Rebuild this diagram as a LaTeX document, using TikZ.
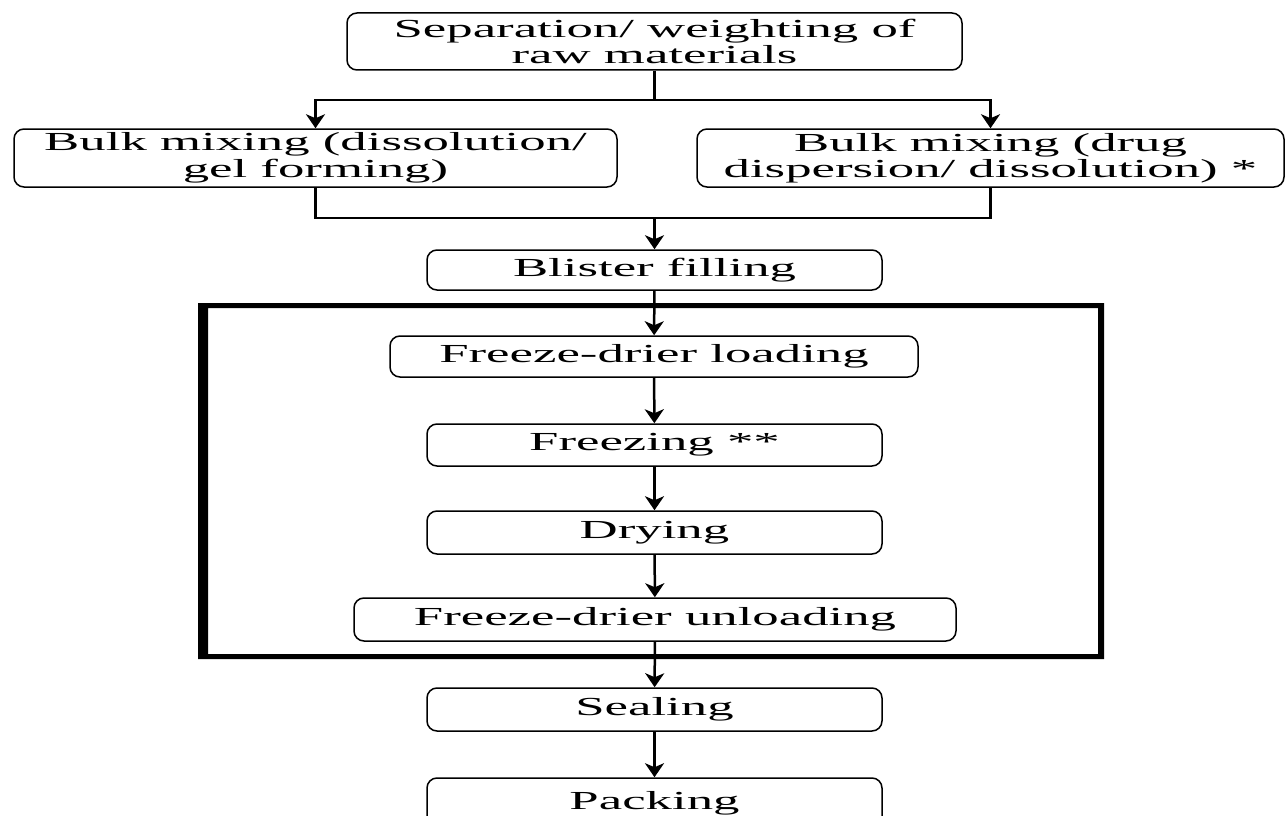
\documentclass[tikz,border=0pt]{standalone}
\usepackage{fontspec}
\setmainfont{Liberation Serif}[FakeStretch=2.03]
\usetikzlibrary{arrows.meta,calc}
\begin{document}
\begin{tikzpicture}[x=1pt,y=-1pt,
  box/.style={draw, line width=1.5pt, rounded corners=10pt, inner sep=0pt, align=center,
    font=\fontsize{26}{26.5}\selectfont},
  arr/.style={line width=2.5pt, -{Stealth[length=14pt,width=19pt,inset=4pt]}},
  ln/.style={line width=2.5pt}]
\useasboundingbox (0,0) rectangle (1286,816);
% frame
\fill[even odd rule] (198,303) rectangle (1104,659) (208,308) rectangle (1098,654);
% nodes
\node[box, minimum width=615pt, minimum height=57pt] (b1) at (654.5,41.5) {Separation/ weighting of\\raw materials};
\node[box, minimum width=603pt, minimum height=58pt] (b2) at (315.5,158) {Bulk mixing (dissolution/\\gel forming)};
\node[box, minimum width=587pt, minimum height=58pt] (b3) at (990.5,158) {Bulk mixing (drug\\dispersion/ dissolution) *};
\node[box, minimum width=455pt, minimum height=40pt] (bf) at (654.5,270) {Blister filling};
\node[box, minimum width=528pt, minimum height=41pt] (fl) at (654,356.5) {Freeze-drier loading};
\node[box, minimum width=455pt, minimum height=42pt] (fr) at (654.5,445) {Freezing **};
\node[box, minimum width=455pt, minimum height=43pt] (dr) at (654.5,532.5) {Drying};
\node[box, minimum width=602pt, minimum height=43pt] (fu) at (655,619.5) {Freeze-drier unloading};
\node[box, minimum width=455pt, minimum height=43pt] (se) at (654.5,709.5) {Sealing};
\node[box, minimum width=455pt, minimum height=50pt, text depth=0pt] (pa) at (654.5,803) {\raisebox{6pt}{Packing}};
% junctions
\coordinate (j1) at (654.5,100);
\coordinate (j2) at (654.5,218);
% connectors
\draw[ln] (b1.south) -- (j1);
\draw[arr] (j1) -| (b2.north);
\draw[arr] (j1) -| (b3.north);
\draw[ln] (b2.south) |- (j2);
\draw[ln] (b3.south) |- (j2);
\draw[arr] (j2) -- (bf.north);
\draw[arr] (bf) -- (fl);
\draw[arr] (fl) -- (fr);
\draw[arr] (fr) -- (dr);
\draw[arr] (dr) -- (fu);
\draw[arr] (fu) -- (se);
\draw[arr] (se) -- (pa);
\end{tikzpicture}
\end{document}
